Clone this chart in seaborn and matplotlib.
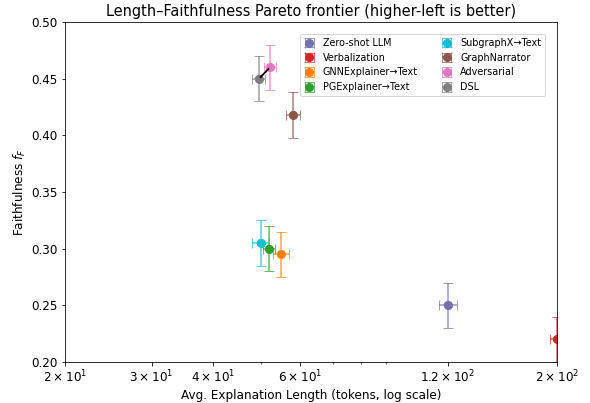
import matplotlib
matplotlib.use("Agg")
import matplotlib.pyplot as plt
import seaborn as sns
import pandas as pd

methods = ["Zero-shot LLM", "Verbalization", "GNNExplainer\u2192Text", "PGExplainer\u2192Text",
           "SubgraphX\u2192Text", "GraphNarrator", "Adversarial", "DSL"]
length = [120, 200, 55, 52, 50, 58.2, 52.2, 49.6]
length_err = [5, 6, 2, 1.5, 2, 2, 1.5, 1.5]
faith = [0.25, 0.22, 0.295, 0.30, 0.305, 0.418, 0.46, 0.45]
faith_err = [0.02, 0.02, 0.02, 0.02, 0.02, 0.02, 0.02, 0.02]
colors = ["#7570b3", "#d62728", "#ff7f0e", "#2ca02c", "#17becf", "#8c564b", "#e377c2", "#7f7f7f"]
xticks = [20, 30, 40, 60, 120, 200]

df = pd.DataFrame({"method": methods, "length": length, "length_err": length_err,
                   "faith": faith, "faith_err": faith_err})

plt.rcParams.update({"font.size": 12, "axes.titlesize": 14.5, "axes.labelsize": 12,
                     "xtick.labelsize": 12, "ytick.labelsize": 12})

DPI = 72
fig, ax = plt.subplots(figsize=(590 / DPI, 403 / DPI), dpi=DPI)
for i, row in df.iterrows():
    ax.errorbar(row["length"], row["faith"], xerr=row["length_err"], yerr=row["faith_err"],
                fmt="o", color=colors[i], ecolor=colors[i], elinewidth=1.6, capsize=5,
                markersize=8, label=row["method"])
for c in ax.containers:
    for lc in c.lines[2]:
        lc.set_alpha(0.7)
    for cap in c.lines[1]:
        cap.set_alpha(0.7)

sns.scatterplot(data=df, x="length", y="faith", hue="method", palette=colors,
                s=64, legend=False, ax=ax, zorder=5, edgecolor="none")

# connector DSL -> Adversarial
i_d, i_a = methods.index("DSL"), methods.index("Adversarial")
ax.annotate("", xy=(length[i_a], faith[i_a]), xytext=(length[i_d], faith[i_d]),
            arrowprops=dict(arrowstyle="-", color="black", lw=1.8), zorder=6)

ax.set_xscale("log")
ax.set_xlim(20, 200)
ax.set_xticks(xticks)
ax.set_ylim(0.20, 0.50)
ax.set_xlabel("Avg. Explanation Length (tokens, log scale)")
ax.set_ylabel("Faithfulness $f_F$")
ax.set_title("Length\u2013Faithfulness Pareto frontier (higher-left is better)")
ax.legend(ncol=2, fontsize=9.6, loc="upper right", bbox_to_anchor=(0.9756, 0.965),
          borderaxespad=0, handlelength=1.2, columnspacing=2.4)

fig.subplots_adjust(left=0.110, right=0.944, top=0.945, bottom=0.102)
fig.savefig("out.png", dpi=DPI)
